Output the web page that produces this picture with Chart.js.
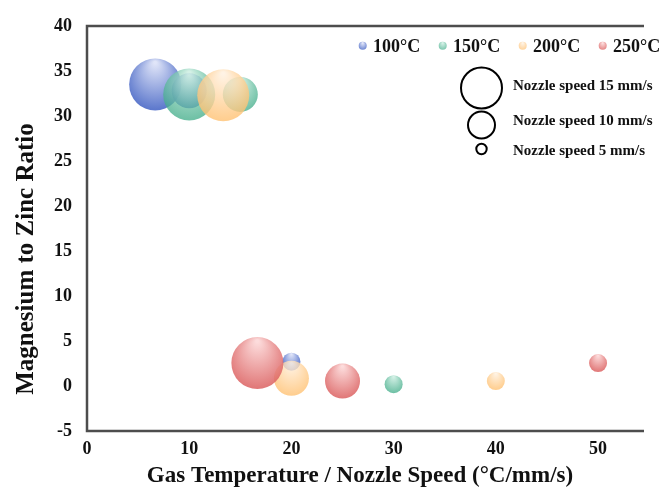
<!DOCTYPE html>
<html>
<head>
<meta charset="utf-8">
<script src="https://cdn.jsdelivr.net/npm/chart.js@4.4.1/dist/chart.umd.min.js"></script>
<style>
    body { margin: 0; background: #fff; }
    #wrap { width: 668px; height: 497px; }
</style>
</head>
<body>
<div id="wrap"><canvas id="chart" width="668" height="497"></canvas></div>
<script>
// Series: gas temperature, points ordered by nozzle speed 15, 10, 5 mm/s
const temperatures = ['100°C', '150°C', '200°C', '250°C'];
const nozzleSpeeds = [15, 10, 5];

const x100 = [6.67, 10, 20];
const y100 = [33.5, 32.8, 2.7];
const x150 = [10, 15, 30];
const y150 = [32.4, 32.4, 0.2];
const x200 = [13.33, 20, 40];
const y200 = [32.3, 0.85, 0.55];
const x250 = [16.67, 25, 50];
const y250 = [2.55, 0.55, 2.55];

const xTicks = [0, 10, 20, 30, 40, 50];
const yTicks = [-5, 0, 5, 10, 15, 20, 25, 30, 35, 40];

const xTitle = 'Gas Temperature / Nozzle Speed (°C/mm/s)';
const yTitle = 'Magnesium to Zinc Ratio';
const speedLabels = ['Nozzle speed 15 mm/s', 'Nozzle speed 10 mm/s', 'Nozzle speed 5 mm/s'];

const SERIF = '"Liberation Serif", "Times New Roman", serif';

const palette = [
    { light: 'rgba(218,224,247,0.85)', dark: 'rgba(66,98,196,0.85)' },
    { light: 'rgba(198,236,222,0.75)', dark: 'rgba(64,172,136,0.75)' },
    { light: 'rgba(255,240,222,0.8)', dark: 'rgba(255,194,116,0.8)' },
    { light: 'rgba(252,214,214,0.85)', dark: 'rgba(220,98,98,0.85)' }
];

function bubbleRadius(speed) {
    return 1.7 * speed + 0.5;
}

function bubbleFill(ctx) {
    const col = palette[ctx.datasetIndex];
    const chart = ctx.chart;
    if (!ctx.raw || !chart.scales.x || !chart.chartArea) return col.dark;
    const px = chart.scales.x.getPixelForValue(ctx.raw.x);
    const py = chart.scales.y.getPixelForValue(ctx.raw.y);
    const r = bubbleRadius(nozzleSpeeds[ctx.dataIndex]);
    const g = chart.ctx.createRadialGradient(px, py - r * 0.85, r * 0.05, px, py - r * 0.15, r * 1.1);
    g.addColorStop(0, col.light);
    g.addColorStop(1, col.dark);
    return g;
}

function toPoints(xs, ys) {
    return xs.map((x, i) => ({ x: x, y: ys[i] }));
}

const seriesX = [x100, x150, x200, x250];
const seriesY = [y100, y150, y200, y250];

// frame, axis titles and the two legends
const decorations = {
    id: 'decorations',
    afterDraw(chart) {
        const c = chart.ctx;
        const a = chart.chartArea;
        c.save();
        c.strokeStyle = '#4d4d4d';
        c.lineWidth = 2.5;
        c.beginPath();
        c.moveTo(a.right + 2, a.top);
        c.lineTo(a.left, a.top);
        c.lineTo(a.left, a.bottom);
        c.lineTo(a.right + 2, a.bottom);
        c.stroke();

        c.fillStyle = '#111';
        c.font = 'bold 23px ' + SERIF;
        c.textAlign = 'center';
        c.textBaseline = 'alphabetic';
        c.fillText(xTitle, 360, 482);

        c.save();
        c.translate(33, 259);
        c.rotate(-Math.PI / 2);
        c.font = 'bold 25px ' + SERIF;
        c.fillText(yTitle, 0, 0);
        c.restore();

        // temperature legend
        c.font = 'bold 18px ' + SERIF;
        c.textAlign = 'left';
        let lx = 358.7;
        temperatures.forEach((t, i) => {
            const g = c.createRadialGradient(lx + 4, 43, 0.5, lx + 4, 45.7, 5);
            g.addColorStop(0, palette[i].light);
            g.addColorStop(1, palette[i].dark);
            c.fillStyle = g;
            c.beginPath();
            c.arc(lx + 4, 45.7, 4, 0, Math.PI * 2);
            c.fill();
            c.fillStyle = '#111';
            c.fillText(t, lx + 14.3, 52);
            lx += 14.3 + c.measureText(t).width + 18.5;
        });

        // nozzle speed legend
        const cy = [88, 125, 149];
        const cr = [20.5, 13.5, 5.2];
        const ty = [86, 121, 151];
        c.strokeStyle = '#000';
        c.lineWidth = 2;
        c.font = 'bold 15px ' + SERIF;
        c.textBaseline = 'middle';
        speedLabels.forEach((s, i) => {
            c.beginPath();
            c.arc(481.5, cy[i], cr[i], 0, Math.PI * 2);
            c.stroke();
            c.fillText(s, 513, ty[i]);
        });
        c.restore();
    }
};

new Chart(document.getElementById('chart'), {
    type: 'bubble',
    data: {
        datasets: temperatures.map((t, i) => ({
            label: t,
            data: toPoints(seriesX[i], seriesY[i]),
            backgroundColor: bubbleFill,
            borderWidth: 0,
            radius: ctx => bubbleRadius(nozzleSpeeds[ctx.dataIndex] || 5),
            hoverRadius: 0,
            order: temperatures.length - i
        }))
    },
    options: {
        responsive: false,
        animation: false,
        events: [],
        layout: { padding: { top: 22, right: 0, left: 0, bottom: 0 } },
        plugins: {
            legend: { display: false },
            tooltip: { enabled: false }
        },
        scales: {
            x: {
                type: 'linear',
                min: 0,
                max: 54.3,
                grid: { display: false, drawTicks: false },
                border: { display: false },
                afterBuildTicks: scale => { scale.ticks = xTicks.map(v => ({ value: v })); },
                afterFit: scale => { scale.height = 66; },
                ticks: {
                    color: '#111',
                    padding: 8,
                    maxRotation: 0,
                    font: { family: SERIF, size: 18, weight: 'bold' }
                }
            },
            y: {
                type: 'linear',
                min: -5,
                max: 40,
                grid: { display: false, drawTicks: false },
                border: { display: false },
                afterBuildTicks: scale => { scale.ticks = yTicks.map(v => ({ value: v })); },
                afterFit: scale => { scale.width = 87; },
                ticks: {
                    color: '#111',
                    padding: 15,
                    font: { family: SERIF, size: 18, weight: 'bold' }
                }
            }
        }
    },
    plugins: [decorations]
});
</script>
</body>
</html>
